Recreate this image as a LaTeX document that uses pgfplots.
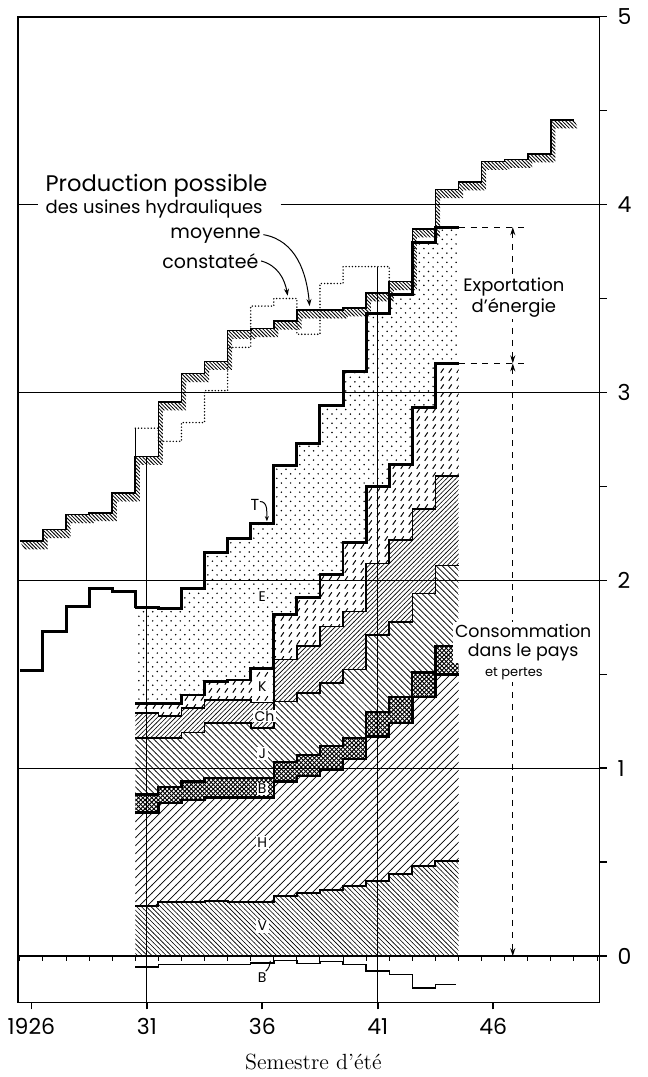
\documentclass[border=0pt]{standalone}
\usepackage{pgfplots}
\pgfplotsset{compat=1.18}
\usepackage{pgfplotstable}
\usepgfplotslibrary{fillbetween}
\usetikzlibrary{patterns,arrows.meta}
\usepackage{fontspec}
\setsansfont{Poppins}

% custom hatch patterns (fixed tiles)
\pgfdeclarepatternformonly{vlines}{\pgfqpoint{-0.5pt}{-0.5pt}}{\pgfqpoint{2.9pt}{2.9pt}}{\pgfqpoint{2.4pt}{2.4pt}}{%
  \pgfsetlinewidth{0.3pt}\pgfpathmoveto{\pgfqpoint{-0.1pt}{2.5pt}}\pgfpathlineto{\pgfqpoint{2.5pt}{-0.1pt}}\pgfusepath{stroke}}
\pgfdeclarepatternformonly{hlines}{\pgfqpoint{-0.5pt}{-0.5pt}}{\pgfqpoint{4.5pt}{4.5pt}}{\pgfqpoint{4pt}{4pt}}{%
  \pgfsetlinewidth{0.35pt}\pgfpathmoveto{\pgfqpoint{-0.1pt}{-0.1pt}}\pgfpathlineto{\pgfqpoint{4.1pt}{4.1pt}}\pgfusepath{stroke}}
\pgfdeclarepatternformonly{bcross}{\pgfqpoint{-0.5pt}{-0.5pt}}{\pgfqpoint{2.7pt}{2.7pt}}{\pgfqpoint{2.2pt}{2.2pt}}{%
  \pgfsetlinewidth{0.45pt}\pgfpathmoveto{\pgfqpoint{-0.1pt}{-0.1pt}}\pgfpathlineto{\pgfqpoint{2.3pt}{2.3pt}}%
  \pgfpathmoveto{\pgfqpoint{-0.1pt}{2.3pt}}\pgfpathlineto{\pgfqpoint{2.3pt}{-0.1pt}}\pgfusepath{stroke}}
\pgfdeclarepatternformonly{jlines}{\pgfqpoint{-0.5pt}{-0.5pt}}{\pgfqpoint{3.5pt}{3.5pt}}{\pgfqpoint{3pt}{3pt}}{%
  \pgfsetlinewidth{0.35pt}\pgfpathmoveto{\pgfqpoint{-0.1pt}{3.1pt}}\pgfpathlineto{\pgfqpoint{3.1pt}{-0.1pt}}\pgfusepath{stroke}}
\pgfdeclarepatternformonly{chlines}{\pgfqpoint{-0.5pt}{-0.5pt}}{\pgfqpoint{2.8pt}{2.8pt}}{\pgfqpoint{2.3pt}{2.3pt}}{%
  \pgfsetlinewidth{0.3pt}\pgfpathmoveto{\pgfqpoint{-0.1pt}{-0.1pt}}\pgfpathlineto{\pgfqpoint{2.4pt}{2.4pt}}\pgfusepath{stroke}}
\pgfdeclarepatternformonly{plines}{\pgfqpoint{-0.5pt}{-0.5pt}}{\pgfqpoint{2.3pt}{2.3pt}}{\pgfqpoint{1.8pt}{1.8pt}}{%
  \pgfsetlinewidth{0.4pt}\pgfpathmoveto{\pgfqpoint{-0.1pt}{1.9pt}}\pgfpathlineto{\pgfqpoint{1.9pt}{-0.1pt}}\pgfusepath{stroke}}
\pgfdeclarepatternformonly{kdash}{\pgfqpoint{-0.5pt}{-0.5pt}}{\pgfqpoint{4.5pt}{4.5pt}}{\pgfqpoint{4pt}{4pt}}{%
  \pgfsetlinewidth{0.5pt}\pgfpathmoveto{\pgfqpoint{0.5pt}{0.3pt}}\pgfpathlineto{\pgfqpoint{2.0pt}{2.5pt}}\pgfusepath{stroke}}
\pgfdeclarepatternformonly{edots}{\pgfqpoint{-0.5pt}{-0.5pt}}{\pgfqpoint{5.1pt}{5.1pt}}{\pgfqpoint{4.6pt}{4.6pt}}{%
  \pgfpathcircle{\pgfqpoint{0.5pt}{0.5pt}}{0.42pt}\pgfpathcircle{\pgfqpoint{2.8pt}{2.8pt}}{0.42pt}\pgfusepath{fill}}

% x = year - 1900 (summer semester of each year drawn from x-0.5 to x+0.5)
% production possible des usines hydrauliques (moyenne)
\pgfplotstableread{
x v
25.5 2.21
26.5 2.27
27.5 2.35
28.5 2.36
29.5 2.465
30.5 2.66
31.5 2.95
32.5 3.10
33.5 3.165
34.5 3.33
35.5 3.34
36.5 3.38
37.5 3.44
38.5 3.44
39.5 3.45
40.5 3.53
41.5 3.59
42.5 3.87
43.5 4.08
44.5 4.12
45.5 4.23
46.5 4.24
47.5 4.27
48.5 4.45
49.5 4.45
}\prodposs

% production constatee
\pgfplotstableread{
x v
30.5 2.81
31.5 2.74
32.5 2.84
33.5 3.01
34.5 3.24
35.5 3.46
36.5 3.50
37.5 3.31
38.5 3.58
39.5 3.67
40.5 3.67
41.5 3.53
}\constatee

% total before 1931
\pgfplotstableread{
x T
25.5 1.52
26.5 1.73
27.5 1.86
28.5 1.955
29.5 1.94
30.5 1.855
}\tearly

% stacked boundaries (upper edge of each layer)
\pgfplotstableread{
x V Bb Bt J Ch K T
30.5 0.265 0.765 0.86 1.16 1.295 1.345 1.855
31.5 0.29 0.815 0.90 1.16 1.277 1.345 1.85
32.5 0.29 0.83 0.93 1.19 1.32 1.39 1.955
33.5 0.295 0.845 0.95 1.24 1.365 1.46 2.15
34.5 0.29 0.845 0.95 1.24 1.365 1.47 2.225
35.5 0.29 0.845 0.95 1.215 1.35 1.53 2.305
36.5 0.32 0.93 1.035 1.355 1.578 1.82 2.61
37.5 0.335 0.96 1.07 1.40 1.65 1.91 2.73
38.5 0.35 0.99 1.12 1.454 1.755 2.03 2.93
39.5 0.375 1.05 1.16 1.525 1.835 2.20 3.11
40.5 0.40 1.17 1.30 1.71 2.09 2.50 3.42
41.5 0.44 1.24 1.38 1.78 2.215 2.615 3.52
42.5 0.48 1.38 1.51 1.93 2.38 2.92 3.80
43.5 0.505 1.50 1.65 2.08 2.555 3.155 3.88
44.5 0.505 1.50 1.65 2.08 2.555 3.155 3.88
}\stack

% B (negative)
\pgfplotstableread{
x v
30.5 -0.057
31.5 -0.045
32.5 -0.045
33.5 -0.045
34.5 -0.045
35.5 -0.036
36.5 -0.022
37.5 -0.04
38.5 -0.028
39.5 -0.045
40.5 -0.078
41.5 -0.098
42.5 -0.17
43.5 -0.15
44.4 -0.15
}\bneg

\begin{document}
\begin{tikzpicture}
\begin{axis}[
  at={(0,0)}, anchor=south west,
  scale only axis, width=291pt, height=493.2pt,
  xmin=25.42, xmax=50.61, ymin=-0.246, ymax=5,
  clip=false,
  axis line style={line width=0.9pt},
  xtick={26,31,36,41,46},
  xticklabels={1926,31,36,41,46},
  xtick pos=left,
  ytick={0,1,2,3,4,5},
  yticklabels={0,1,2,3,4,5},
  minor ytick={0.5,1.5,2.5,3.5,4.5},
  ytick pos=right, yticklabel pos=right,
  tick align=outside,
  major tick length=3.5pt, minor tick length=3.5pt,
  every tick/.style={line width=0.8pt, black},
  ticklabel style={font=\sffamily\fontsize{11}{12}\selectfont},
  yticklabel style={xshift=2pt},
  xticklabel style={yshift=-1pt},
]
% grid lines
\draw[line width=0.55pt] (axis cs:25.42,1) -- (axis cs:50.61,1);
\draw[line width=0.55pt] (axis cs:25.42,2) -- (axis cs:50.61,2);
\draw[line width=0.55pt] (axis cs:25.42,3) -- (axis cs:50.61,3);
\draw[line width=0.55pt] (axis cs:25.42,4) -- (axis cs:26.3,4);
\draw[line width=0.55pt] (axis cs:36.8,4) -- (axis cs:50.61,4);
\draw[line width=0.5pt] (axis cs:31,-0.246) -- (axis cs:31,2.66);
\draw[line width=0.5pt] (axis cs:41,-0.246) -- (axis cs:41,3.67);

% V layer (down to zero)
\addplot[draw=none, const plot, pattern=vlines] table[x=x,y=V]{\stack} \closedcycle;

% boundary paths
\addplot[draw=none, forget plot, const plot, name path=pV] table[x=x,y=V]{\stack};
\addplot[draw=none, forget plot, const plot, name path=pBb] table[x=x,y=Bb]{\stack};
\addplot[draw=none, forget plot, const plot, name path=pBt] table[x=x,y=Bt]{\stack};
\addplot[draw=none, forget plot, const plot, name path=pJ] table[x=x,y=J]{\stack};
\addplot[draw=none, forget plot, const plot, name path=pCh] table[x=x,y=Ch]{\stack};
\addplot[draw=none, forget plot, const plot, name path=pK] table[x=x,y=K]{\stack};
\addplot[draw=none, forget plot, const plot, name path=pT] table[x=x,y=T]{\stack};

% layers
\addplot[draw=none, pattern=hlines] fill between[of=pBb and pV];
\addplot[draw=none, pattern=bcross] fill between[of=pBt and pBb];
\addplot[draw=none, pattern=jlines] fill between[of=pJ and pBt];
\addplot[draw=none, pattern=chlines] fill between[of=pCh and pJ];
\addplot[draw=none, pattern=kdash] fill between[of=pK and pCh];
\addplot[draw=none, pattern=edots] fill between[of=pT and pK];

% production possible band
\addplot[draw=none, forget plot, const plot, name path=pp] table[x=x,y=v]{\prodposs};
\addplot[draw=none, forget plot, const plot, name path=ppl] table[x expr=\thisrow{x}+0.2, y expr=\thisrow{v}-0.045]{\prodposs};
\addplot[draw=none, pattern=plines] fill between[of=pp and ppl];
\addplot[const plot, line width=0.8pt] table[x=x,y=v]{\prodposs};

% constatee
\addplot[const plot, line width=0.8pt, line cap=round, dash pattern=on 0pt off 1.6pt] table[x=x,y=v]{\constatee};
\addplot[line width=0.5pt] coordinates {(30.5,2.66) (30.5,2.81)};

% boundary lines
\addplot[const plot, line width=1.0pt] table[x=x,y=V]{\stack};
\addplot[const plot, line width=1.2pt] table[x=x,y=Bb]{\stack};
\addplot[const plot, line width=1.1pt] table[x=x,y=Bt]{\stack};
\addplot[const plot, line width=0.8pt] table[x=x,y=J]{\stack};
\addplot[const plot, line width=0.8pt] table[x=x,y=Ch]{\stack};
\addplot[const plot, line width=1.4pt] table[x=x,y=K]{\stack};
\addplot[const plot, line width=1.5pt] table[x=x,y=T]{\stack};
\addplot[const plot, line width=1.5pt] table[x=x,y=T]{\tearly};
\addplot[const plot, line width=0.7pt] table[x=x,y=v]{\bneg};

% zero line and its half-year ticks
\draw[line width=1.2pt] (axis cs:25.42,0) -- (axis cs:50.61,0);
\addplot[ycomb, line width=0.5pt, mark=none] coordinates {(25.5,-0.027) (26.5,-0.027) (27.5,-0.027) (28.5,-0.027) (29.5,-0.027) (30.5,-0.027) (31.5,-0.027) (32.5,-0.027) (33.5,-0.027) (34.5,-0.027) (35.5,-0.027) (36.5,-0.027) (37.5,-0.027) (38.5,-0.027) (39.5,-0.027) (40.5,-0.027) (41.5,-0.027) (42.5,-0.027) (43.5,-0.027) (44.5,-0.027) (45.5,-0.027) (46.5,-0.027) (47.5,-0.027) (48.5,-0.027) (49.5,-0.027) (50.5,-0.027)};

% dashed arrows
\draw[line width=0.6pt, dashed] (axis cs:44.5,3.88) -- (axis cs:47.35,3.88);
\draw[line width=0.6pt, dashed] (axis cs:44.5,3.155) -- (axis cs:47.35,3.155);
\draw[line width=0.6pt, dashed, {Stealth[length=4pt,width=2.5pt]}-{Stealth[length=4pt,width=2.5pt]}] (axis cs:46.85,3.88) -- (axis cs:46.85,3.155);
\draw[line width=0.6pt, dashed, {Stealth[length=4pt,width=2.5pt]}-{Stealth[length=4pt,width=2.5pt]}] (axis cs:46.85,3.155) -- (axis cs:46.85,0);

% texts
\node[font=\sffamily\fontsize{11.3}{12}\selectfont, anchor=west, inner sep=0pt] at (axis cs:26.6,4.10) {Production possible};
\node[font=\sffamily\fontsize{9}{10}\selectfont, anchor=west, inner sep=0pt] at (axis cs:26.6,3.975) {des usines hydrauliques};
\node[font=\sffamily\fontsize{9.5}{10}\selectfont, anchor=east, inner sep=0pt] at (axis cs:35.95,3.835) {moyenne};
\node[font=\sffamily\fontsize{9.5}{10}\selectfont, anchor=east, inner sep=0pt] at (axis cs:35.85,3.70) {constateé};
\draw[line width=0.5pt, -{Stealth[length=3.5pt,width=2.5pt]}] (axis cs:36.05,3.84) to[out=-10,in=95] (axis cs:38.05,3.46);
\draw[line width=0.5pt, -{Stealth[length=3.5pt,width=2.5pt]}] (axis cs:35.95,3.70) to[out=-15,in=100] (axis cs:37.1,3.515);

\node[font=\sffamily\fontsize{9}{8.7}\selectfont, align=center, fill=white, inner sep=1pt] at (axis cs:46.9,3.505) {Exportation\\d'énergie};
\node[font=\sffamily\fontsize{8.7}{9.4}\selectfont, align=center, fill=white, inner sep=1pt] at (axis cs:47.3,1.67) {Consommation\\dans le pays};
\node[font=\sffamily\fontsize{6.5}{7}\selectfont, fill=white, inner sep=1pt] at (axis cs:46.9,1.505) {et pertes};

% region labels
\node[font=\sffamily\fontsize{8}{9}\selectfont, inner sep=0.5pt] at (axis cs:35.68,2.40) {T};
\draw[line width=0.5pt, -{Stealth[length=2.5pt,width=2pt]}] (axis cs:35.9,2.42) to[out=0,in=90] (axis cs:36.2,2.315);
\node[font=\sffamily\fontsize{7}{8}\selectfont, fill=white, inner sep=0.8pt] at (axis cs:36.0,1.915) {E};
\node[font=\sffamily\fontsize{7}{8}\selectfont, fill=white, inner sep=0.8pt] at (axis cs:36.0,1.435) {K};
\node[font=\sffamily\fontsize{7}{8}\selectfont, fill=white, inner sep=0.6pt] at (axis cs:36.1,1.278) {Ch};
\node[font=\sffamily\fontsize{7}{8}\selectfont, fill=white, inner sep=0.8pt] at (axis cs:36.0,1.08) {J};
\node[font=\sffamily\fontsize{7}{8}\selectfont, fill=white, inner sep=0.6pt] at (axis cs:36.0,0.89) {B};
\node[font=\sffamily\fontsize{7}{8}\selectfont, fill=white, inner sep=0.8pt] at (axis cs:36.0,0.605) {H};
\node[font=\sffamily\fontsize{7}{8}\selectfont, fill=white, inner sep=0.8pt] at (axis cs:36.0,0.16) {V};
\node[font=\sffamily\fontsize{7}{8}\selectfont, inner sep=0.8pt] at (axis cs:36.0,-0.113) {B};
\draw[line width=0.5pt] (axis cs:36.15,-0.08) to[out=40,in=-100] (axis cs:36.35,-0.025);

\node[font=\fontsize{11}{12}\selectfont] at (rel axis cs:0.508,0) [yshift=-30pt] {Semestre d'été};
\end{axis}
\path (-9pt,-37pt) rectangle (315pt,501.55pt);
\end{tikzpicture}
\end{document}
